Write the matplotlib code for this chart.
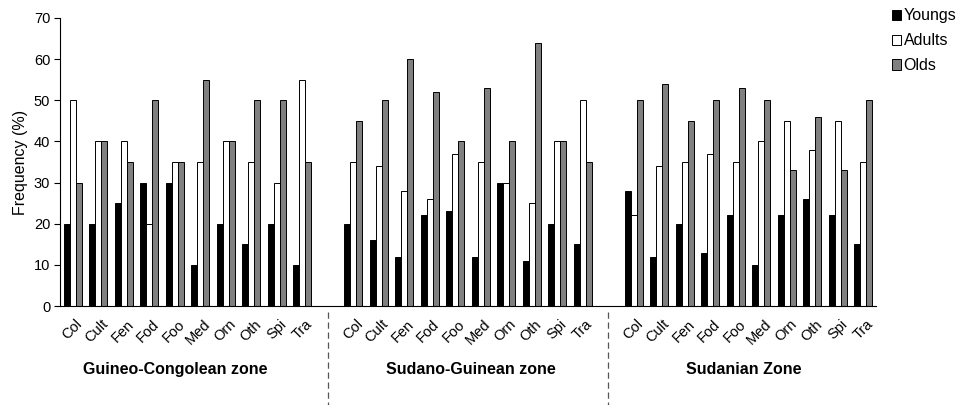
import matplotlib
matplotlib.use('Agg')
import matplotlib.pyplot as plt
import matplotlib.transforms as mtransforms
import numpy as np

plt.rcParams['font.family'] = ['Liberation Sans', 'DejaVu Sans']

# data
categories = ['Col', 'Cult', 'Fen', 'Fod', 'Foo', 'Med', 'Orn', 'Oth', 'Spi', 'Tra']
zones = ['Guineo-Congolean zone', 'Sudano-Guinean zone', 'Sudanian Zone']

youngs = [
    [20, 20, 25, 30, 30, 10, 20, 15, 20, 10],
    [20, 16, 12, 22, 23, 12, 30, 11, 20, 15],
    [28, 12, 20, 13, 22, 10, 22, 26, 22, 15],
]
adults = [
    [50, 40, 40, 20, 35, 35, 40, 35, 30, 55],
    [35, 34, 28, 26, 37, 35, 30, 25, 40, 50],
    [22, 34, 35, 37, 35, 40, 45, 38, 45, 35],
]
olds = [
    [30, 40, 35, 50, 35, 55, 40, 50, 50, 35],
    [45, 50, 60, 52, 40, 53, 40, 64, 40, 35],
    [50, 54, 45, 50, 53, 50, 33, 46, 33, 50],
]

series = [('Youngs', youngs, 'black'),
          ('Adults', adults, 'white'),
          ('Olds', olds, '#808080')]

fig = plt.figure(figsize=(9.59, 4.05), dpi=100)
ax = fig.add_axes([0.0626, 0.2444, 0.851, 0.7112])

n_cat = len(categories)
slot = n_cat + 1  # one empty slot between zones
bar_w = 0.236

# x positions of each category, zone by zone
positions = []
for z in range(len(zones)):
    positions.append(np.arange(n_cat) + z * slot)

for k, (name, values, color) in enumerate(series):
    for z in range(len(zones)):
        ax.bar(positions[z] + (k - 1) * bar_w, values[z], width=bar_w,
               color=color, edgecolor='black', linewidth=0.7,
               label=name if z == 0 else None)

all_pos = np.concatenate(positions)
ax.set_xticks(all_pos + 0.1)
ax.set_xticklabels(categories * len(zones), rotation=45, ha='right', va='top',
                   rotation_mode='anchor', fontsize=10.5)
ax.tick_params(axis='x', length=0, pad=8)

ax.set_xlim(-0.5, len(zones) * slot - 1.5)
ax.set_ylim(0, 70)
ax.set_yticks(range(0, 71, 10))
ax.tick_params(axis='y', direction='out', length=4, width=0.8, labelsize=10.5, pad=3)
ax.set_ylabel('Frequency (%)', fontsize=11.5, labelpad=4)

for side in ['top', 'right']:
    ax.spines[side].set_visible(False)
ax.spines['left'].set_linewidth(0.8)
ax.spines['bottom'].set_linewidth(0.8)

trans = mtransforms.blended_transform_factory(ax.transData, ax.transAxes)

# dashed separators between zones
for z in range(1, len(zones)):
    xs = z * slot - 1
    ax.plot([xs, xs], [-0.02, -0.35], transform=trans, clip_on=False,
            color='#555555', linestyle=(0, (5, 3)), linewidth=0.9)

# zone names
label_x = [4.0, 15.6, 26.3]
for z, name in enumerate(zones):
    ax.text(label_x[z], -0.222, name, transform=trans, ha='center', va='center',
            fontsize=11.5, fontweight='bold')

fig.legend(loc='upper left', bbox_to_anchor=(0.921, 1.0), frameon=False,
           fontsize=11.5, handlelength=0.6, handleheight=0.6,
           handletextpad=0.15, labelspacing=0.62, borderaxespad=0.12)

fig.savefig('out.png', dpi=100)
